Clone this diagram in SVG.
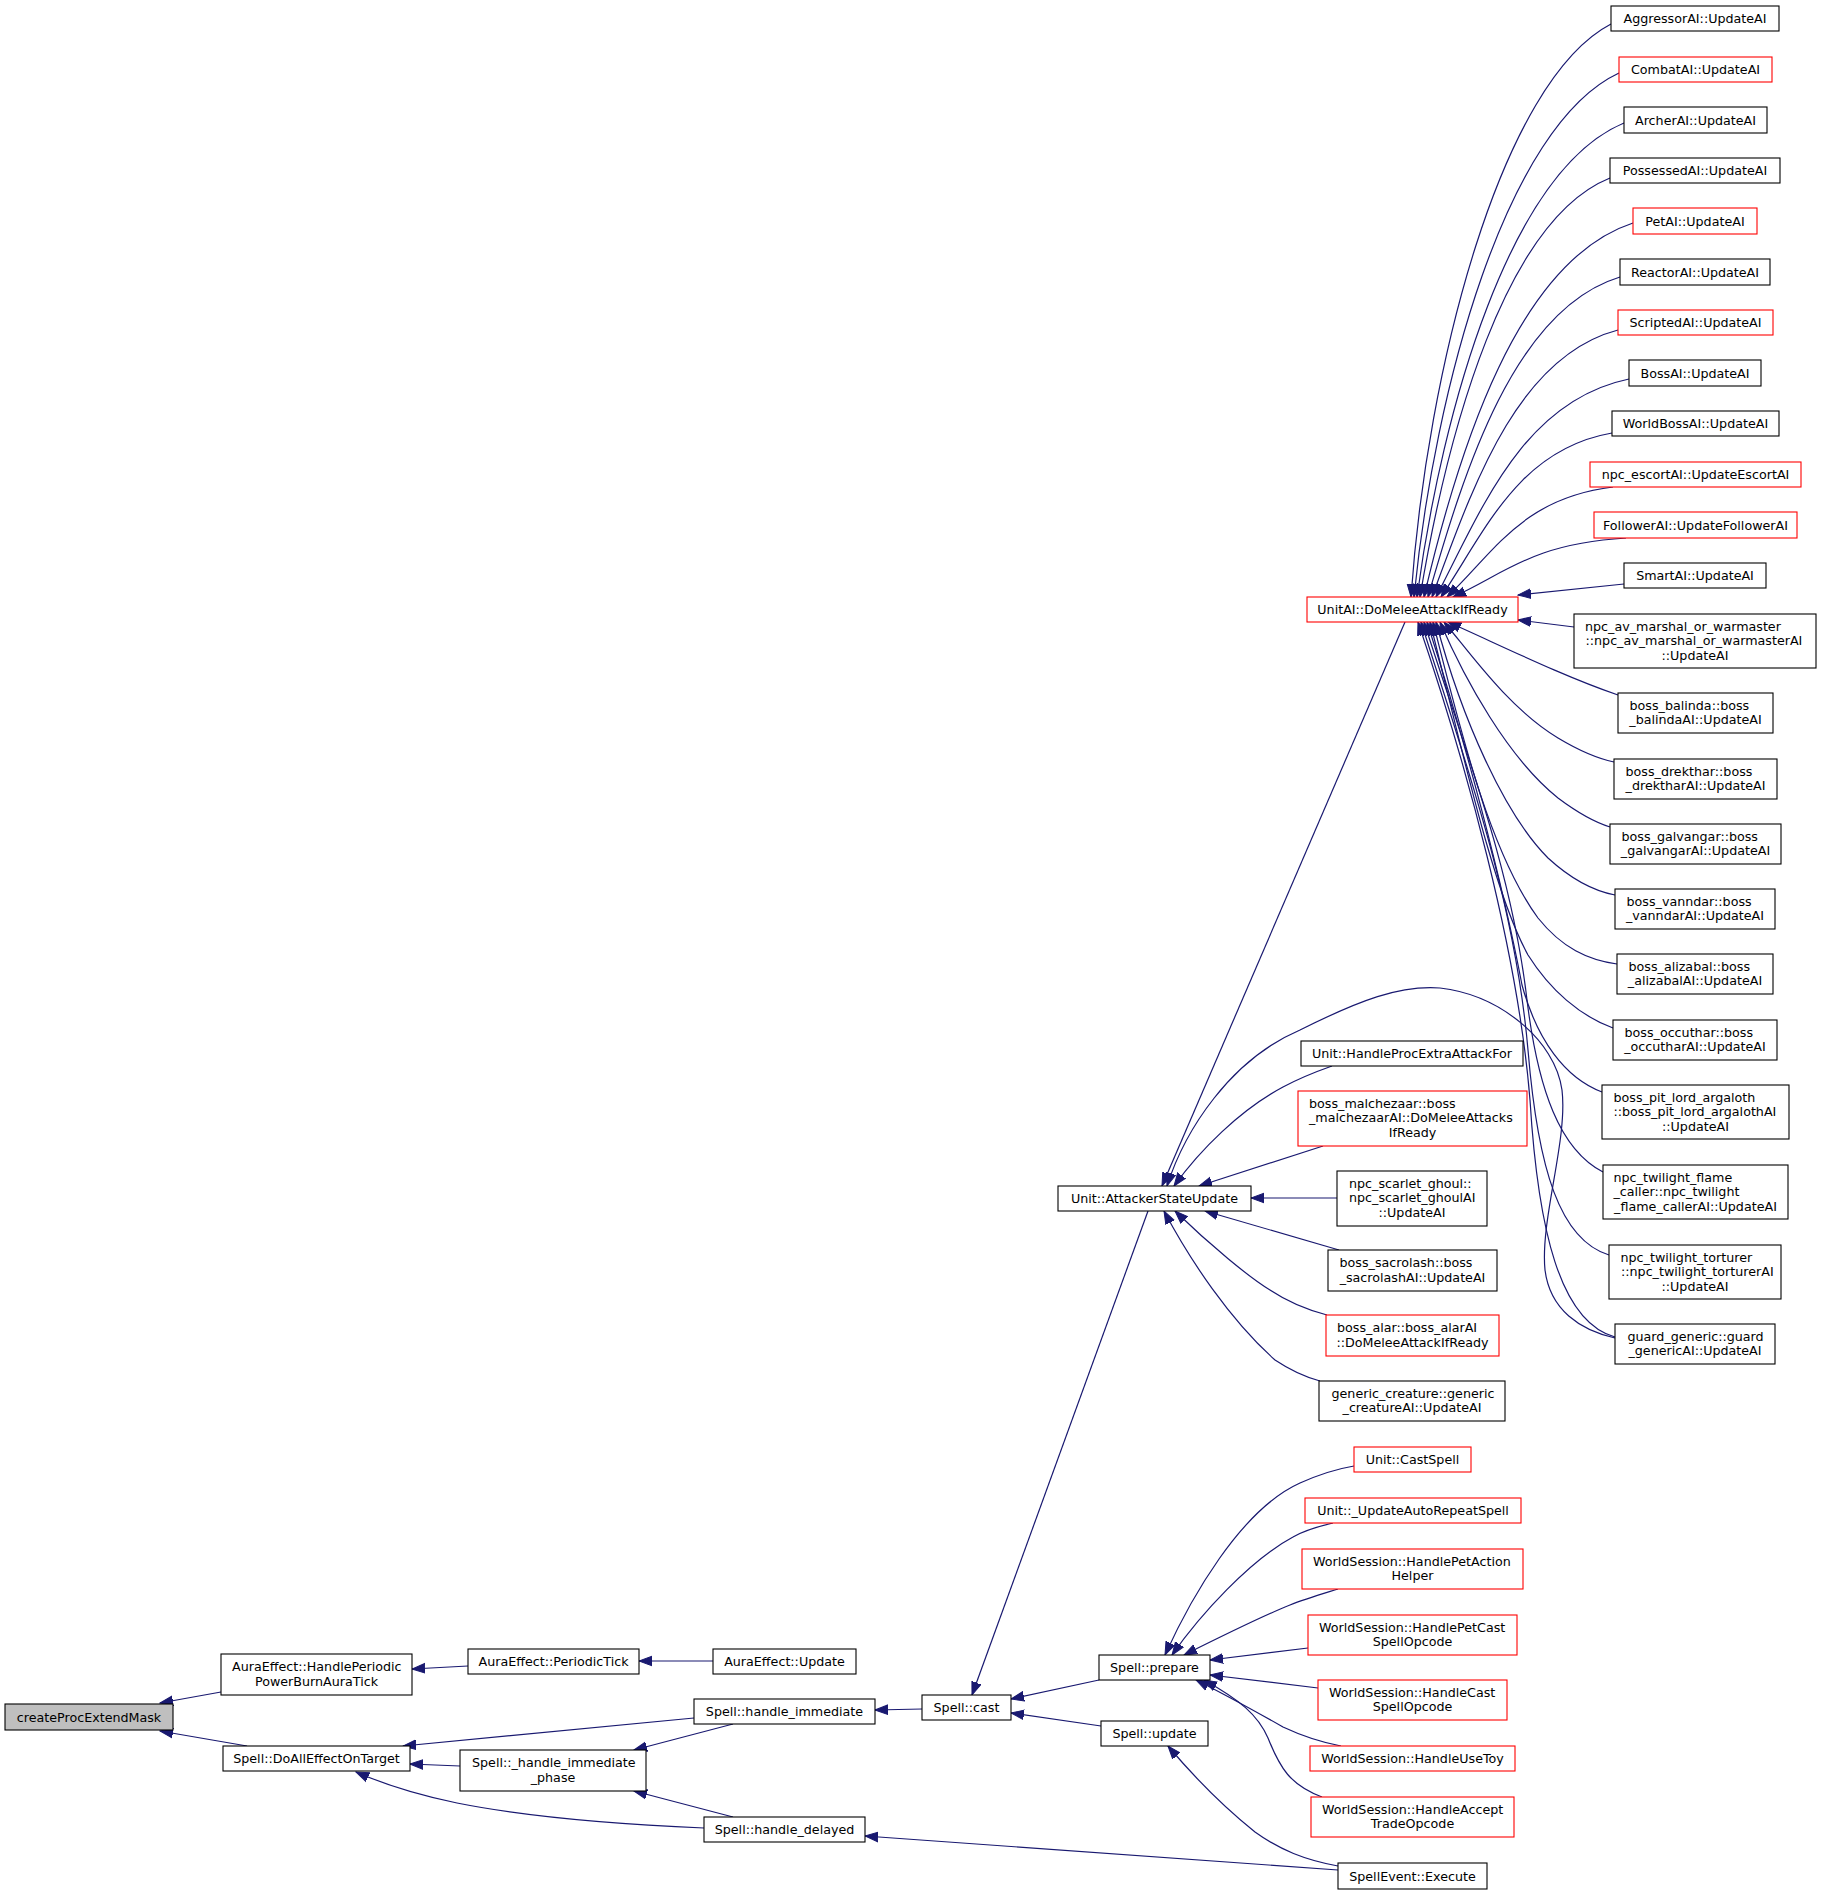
<svg xmlns="http://www.w3.org/2000/svg" width="1821" height="1895" viewBox="0 0 1821 1895">
<style>
rect{stroke-width:1.1}
.b{fill:#fff;stroke:#000}
.r{fill:#fff;stroke:#f00}
.g{fill:#bfbfbf;stroke:#000}
text{font-family:"DejaVu Sans","Liberation Sans",sans-serif;font-size:12.7px;fill:#000}
.m{text-anchor:middle}
#edges path{fill:none;stroke:#191970;stroke-width:1.2;marker-start:url(#a)}
</style>
<defs>
<marker id="a" markerUnits="userSpaceOnUse" markerWidth="14" markerHeight="12" viewBox="0 -6 14 12" refX="13" refY="0" orient="auto-start-reverse">
<path d="M0,-4.8L13,0L0,4.8z" fill="#191970" stroke="#191970" stroke-width="1"/>
</marker>
</defs>
<rect width="1821" height="1895" fill="#fff"/>
<g id="edges">
<path d="M160,1703 L221,1692"/>
<path d="M160,1731 L247,1746"/>
<path d="M412,1669 L468,1666"/>
<path d="M639,1661 L713,1661"/>
<path d="M403,1746 L694,1718"/>
<path d="M410,1764 L460,1766"/>
<path d="M356,1772 C388,1786 423,1796 457,1803 C532,1818 634,1825 704,1828"/>
<path d="M634,1750 L733,1724"/>
<path d="M634,1791 L733,1817"/>
<path d="M875,1710 L922,1709"/>
<path d="M865,1836 L1338,1870"/>
<path d="M972,1695 L1148,1211"/>
<path d="M1011,1699 L1099,1680"/>
<path d="M1011,1713 L1101,1726"/>
<path d="M1168,1746 C1195,1778 1225,1808 1255,1832 C1280,1850 1305,1860 1338,1866"/>
<path d="M1165,1655 C1190,1600 1240,1510 1300,1483 C1318,1475 1336,1469 1354,1466"/>
<path d="M1172,1655 C1200,1615 1250,1560 1293,1537 C1305,1530 1320,1526 1333,1523"/>
<path d="M1184,1655 C1220,1637 1260,1617 1290,1605 C1305,1599 1322,1594 1338,1589"/>
<path d="M1210,1660 L1308,1648"/>
<path d="M1210,1675 L1318,1688"/>
<path d="M1196,1680 C1230,1697 1260,1714 1283,1727 C1300,1735 1320,1742 1341,1746"/>
<path d="M1204,1680 C1240,1700 1258,1715 1268,1738 C1280,1768 1290,1785 1322,1797"/>
<path d="M1162,1186 L1405,622"/>
<path d="M1174,1186 C1200,1150 1240,1110 1283,1087 C1298,1079 1315,1072 1332,1066"/>
<path d="M1199,1186 L1323,1146"/>
<path d="M1251,1198 L1337,1198"/>
<path d="M1205,1211 L1339,1250"/>
<path d="M1175,1211 C1210,1245 1250,1278 1270,1290 C1288,1302 1308,1310 1327,1315"/>
<path d="M1164,1211 C1190,1260 1230,1320 1275,1360 C1290,1370 1305,1377 1320,1381"/>
<path d="M1167,1186 C1185,1130 1230,1060 1300,1030 C1360,1000 1400,985 1440,988 C1500,995 1555,1040 1562,1090 C1568,1140 1540,1220 1545,1270 C1550,1310 1580,1330 1615,1338"/>
<path d="M1518,595 L1624,584"/>
<path d="M1518,620 L1574,627"/>
<path d="M1411,597 C1427,367.8 1501,81.3 1611,24"/>
<path d="M1414,597 C1434.8,387.4 1506.3,125.4 1619,73"/>
<path d="M1417,597 C1442.5,407.4 1510.2,170.4 1624,123"/>
<path d="M1420,597 C1447.9,429.4 1505.5,219.9 1610,178"/>
<path d="M1424,597 C1458.9,447.4 1518.1,260.4 1633,223"/>
<path d="M1428,597 C1464.5,469 1514.4,309 1620,277"/>
<path d="M1432,597 C1471.7,490.2 1515.7,356.7 1618,330"/>
<path d="M1436,597 C1481.4,509.8 1522.9,400.8 1629,379"/>
<path d="M1441,597 C1485.2,531.4 1518,449.4 1612,433"/>
<path d="M1447,597 C1493.8,553 1521.7,498 1613,487"/>
<path d="M1453,597 C1505.6,573.4 1530.9,543.9 1626,538"/>
<path d="M1418,622 C1465,760 1518,950 1530,1100 C1538,1230 1560,1322 1615,1337"/>
<path d="M1421,622 C1465,760 1515,900 1528,1050 C1538,1170 1560,1240 1609,1255"/>
<path d="M1424,622 C1465,750 1512,870 1527,1000 C1538,1090 1560,1150 1603,1172"/>
<path d="M1427,622 C1465,740 1502,880 1522,985 C1537,1040 1565,1078 1602,1092"/>
<path d="M1430,622 C1460,740 1492,890 1528,955 C1550,990 1580,1016 1613,1028"/>
<path d="M1433,622 C1458,720 1488,850 1538,918 C1562,948 1588,960 1617,964"/>
<path d="M1436,622 C1462,720 1505,815 1548,858 C1572,880 1594,891 1615,895"/>
<path d="M1440,622 C1465,680 1508,758 1558,798 C1578,813 1594,822 1610,827"/>
<path d="M1444,622 C1468,650 1508,708 1558,738 C1578,750 1595,758 1614,762"/>
<path d="M1448,622 C1500,645 1560,675 1618,695"/>
</g>
<g id="n1"><rect class="g" x="5" y="1704" width="168" height="26"/><text class="m" x="89" y="1721.5">createProcExtendMask</text></g>
<g id="n2"><rect class="b" x="221" y="1654" width="191" height="41"/><text x="232" y="1671">AuraEffect::HandlePeriodic</text><text class="m" x="316.5" y="1685.5">PowerBurnAuraTick</text></g>
<g id="n3"><rect class="b" x="223" y="1746" width="187" height="25"/><text class="m" x="316.5" y="1763">Spell::DoAllEffectOnTarget</text></g>
<g id="n4"><rect class="b" x="468" y="1649" width="171" height="25"/><text class="m" x="553.5" y="1666">AuraEffect::PeriodicTick</text></g>
<g id="n5"><rect class="b" x="713" y="1649" width="143" height="25"/><text class="m" x="784.5" y="1666">AuraEffect::Update</text></g>
<g id="n6"><rect class="b" x="694" y="1699" width="181" height="25"/><text class="m" x="784.5" y="1716">Spell::handle_immediate</text></g>
<g id="n7"><rect class="b" x="460" y="1750" width="186" height="41"/><text x="472" y="1767">Spell::_handle_immediate</text><text class="m" x="553" y="1781.5">_phase</text></g>
<g id="n8"><rect class="b" x="704" y="1817" width="161" height="25"/><text class="m" x="784.5" y="1834">Spell::handle_delayed</text></g>
<g id="n9"><rect class="b" x="922" y="1695" width="89" height="25"/><text class="m" x="966.5" y="1712">Spell::cast</text></g>
<g id="n10"><rect class="b" x="1099" y="1655" width="111" height="25"/><text class="m" x="1154.5" y="1672">Spell::prepare</text></g>
<g id="n11"><rect class="b" x="1101" y="1721" width="107" height="25"/><text class="m" x="1154.5" y="1738">Spell::update</text></g>
<g id="n12"><rect class="r" x="1354" y="1447" width="117" height="25"/><text class="m" x="1412.5" y="1464">Unit::CastSpell</text></g>
<g id="n13"><rect class="r" x="1305" y="1498" width="216" height="25"/><text class="m" x="1413" y="1515">Unit::_UpdateAutoRepeatSpell</text></g>
<g id="n14"><rect class="r" x="1302" y="1549" width="221" height="40"/><text x="1313" y="1565.5">WorldSession::HandlePetAction</text><text class="m" x="1412.5" y="1580">Helper</text></g>
<g id="n15"><rect class="r" x="1308" y="1615" width="209" height="40"/><text x="1319" y="1631.5">WorldSession::HandlePetCast</text><text class="m" x="1412.5" y="1646">SpellOpcode</text></g>
<g id="n16"><rect class="r" x="1318" y="1680" width="189" height="40"/><text x="1329" y="1696.5">WorldSession::HandleCast</text><text class="m" x="1412.5" y="1711">SpellOpcode</text></g>
<g id="n17"><rect class="r" x="1310" y="1746" width="205" height="25"/><text class="m" x="1412.5" y="1763">WorldSession::HandleUseToy</text></g>
<g id="n18"><rect class="r" x="1311" y="1797" width="203" height="40"/><text x="1322" y="1813.5">WorldSession::HandleAccept</text><text class="m" x="1412.5" y="1828">TradeOpcode</text></g>
<g id="n19"><rect class="b" x="1338" y="1863" width="149" height="26"/><text class="m" x="1412.5" y="1880.5">SpellEvent::Execute</text></g>
<g id="n20"><rect class="b" x="1058" y="1186" width="193" height="25"/><text class="m" x="1154.5" y="1203">Unit::AttackerStateUpdate</text></g>
<g id="n21"><rect class="b" x="1301" y="1041" width="222" height="25"/><text class="m" x="1412" y="1058">Unit::HandleProcExtraAttackFor</text></g>
<g id="n22"><rect class="r" x="1298" y="1091" width="229" height="55"/><text x="1309" y="1107.5">boss_malchezaar::boss</text><text x="1309" y="1122">_malchezaarAI::DoMeleeAttacks</text><text class="m" x="1412.5" y="1137">IfReady</text></g>
<g id="n23"><rect class="b" x="1337" y="1171" width="150" height="55"/><text x="1349" y="1187.5">npc_scarlet_ghoul::</text><text x="1349" y="1202">npc_scarlet_ghoulAI</text><text class="m" x="1412" y="1217">::UpdateAI</text></g>
<g id="n24"><rect class="b" x="1328" y="1250" width="169" height="41"/><text x="1339.5" y="1267">boss_sacrolash::boss</text><text class="m" x="1412.5" y="1281.5">_sacrolashAI::UpdateAI</text></g>
<g id="n25"><rect class="r" x="1326" y="1315" width="173" height="41"/><text x="1337" y="1332">boss_alar::boss_alarAI</text><text class="m" x="1412.5" y="1346.5">::DoMeleeAttackIfReady</text></g>
<g id="n26"><rect class="b" x="1319" y="1381" width="186" height="40"/><text x="1331.5" y="1397.5">generic_creature::generic</text><text class="m" x="1412" y="1412">_creatureAI::UpdateAI</text></g>
<g id="n27"><rect class="r" x="1307" y="597" width="211" height="25"/><text class="m" x="1412.5" y="614">UnitAI::DoMeleeAttackIfReady</text></g>
<g id="n28"><rect class="b" x="1611" y="6" width="168" height="25"/><text class="m" x="1695" y="23">AggressorAI::UpdateAI</text></g>
<g id="n29"><rect class="r" x="1619" y="57" width="153" height="25"/><text class="m" x="1695.5" y="74">CombatAI::UpdateAI</text></g>
<g id="n30"><rect class="b" x="1624" y="107" width="143" height="26"/><text class="m" x="1695.5" y="124.5">ArcherAI::UpdateAI</text></g>
<g id="n31"><rect class="b" x="1610" y="158" width="170" height="25"/><text class="m" x="1695" y="175">PossessedAI::UpdateAI</text></g>
<g id="n32"><rect class="r" x="1633" y="208" width="124" height="26"/><text class="m" x="1695" y="225.5">PetAI::UpdateAI</text></g>
<g id="n33"><rect class="b" x="1620" y="259" width="150" height="26"/><text class="m" x="1695" y="276.5">ReactorAI::UpdateAI</text></g>
<g id="n34"><rect class="r" x="1618" y="310" width="155" height="25"/><text class="m" x="1695.5" y="327">ScriptedAI::UpdateAI</text></g>
<g id="n35"><rect class="b" x="1629" y="360" width="132" height="26"/><text class="m" x="1695" y="377.5">BossAI::UpdateAI</text></g>
<g id="n36"><rect class="b" x="1612" y="411" width="167" height="25"/><text class="m" x="1695.5" y="428">WorldBossAI::UpdateAI</text></g>
<g id="n37"><rect class="r" x="1590" y="462" width="211" height="25"/><text class="m" x="1695.5" y="479">npc_escortAI::UpdateEscortAI</text></g>
<g id="n38"><rect class="r" x="1594" y="512" width="203" height="26"/><text class="m" x="1695.5" y="529.5">FollowerAI::UpdateFollowerAI</text></g>
<g id="n39"><rect class="b" x="1624" y="563" width="142" height="25"/><text class="m" x="1695" y="580">SmartAI::UpdateAI</text></g>
<g id="n40"><rect class="b" x="1574" y="614" width="242" height="54"/><text x="1585" y="630.5">npc_av_marshal_or_warmaster</text><text x="1585.5" y="645">::npc_av_marshal_or_warmasterAI</text><text class="m" x="1695" y="659.5">::UpdateAI</text></g>
<g id="n41"><rect class="b" x="1618" y="693" width="155" height="40"/><text x="1629.5" y="709.5">boss_balinda::boss</text><text class="m" x="1695.5" y="724">_balindaAI::UpdateAI</text></g>
<g id="n42"><rect class="b" x="1614" y="759" width="163" height="40"/><text x="1625.5" y="775.5">boss_drekthar::boss</text><text class="m" x="1695.5" y="790">_drektharAI::UpdateAI</text></g>
<g id="n43"><rect class="b" x="1610" y="824" width="171" height="40"/><text x="1621.5" y="840.5">boss_galvangar::boss</text><text class="m" x="1695.5" y="855">_galvangarAI::UpdateAI</text></g>
<g id="n44"><rect class="b" x="1615" y="889" width="160" height="40"/><text x="1626.5" y="905.5">boss_vanndar::boss</text><text class="m" x="1695" y="920">_vanndarAI::UpdateAI</text></g>
<g id="n45"><rect class="b" x="1617" y="954" width="156" height="40"/><text x="1628.5" y="970.5">boss_alizabal::boss</text><text class="m" x="1695" y="985">_alizabalAI::UpdateAI</text></g>
<g id="n46"><rect class="b" x="1613" y="1020" width="164" height="40"/><text x="1624.5" y="1036.5">boss_occuthar::boss</text><text class="m" x="1695" y="1051">_occutharAI::UpdateAI</text></g>
<g id="n47"><rect class="b" x="1602" y="1085" width="187" height="54"/><text x="1613.5" y="1101.5">boss_pit_lord_argaloth</text><text x="1613.5" y="1116">::boss_pit_lord_argalothAI</text><text class="m" x="1695.5" y="1130.5">::UpdateAI</text></g>
<g id="n48"><rect class="b" x="1603" y="1165" width="185" height="54"/><text x="1613.5" y="1181.5">npc_twilight_flame</text><text x="1613.5" y="1196">_caller::npc_twilight</text><text class="m" x="1695.5" y="1210.5">_flame_callerAI::UpdateAI</text></g>
<g id="n49"><rect class="b" x="1609" y="1245" width="172" height="54"/><text x="1620.5" y="1261.5">npc_twilight_torturer</text><text x="1621" y="1276">::npc_twilight_torturerAI</text><text class="m" x="1695" y="1290.5">::UpdateAI</text></g>
<g id="n50"><rect class="b" x="1615" y="1324" width="160" height="40"/><text x="1627.5" y="1340.5">guard_generic::guard</text><text class="m" x="1695" y="1355">_genericAI::UpdateAI</text></g>
</svg>
